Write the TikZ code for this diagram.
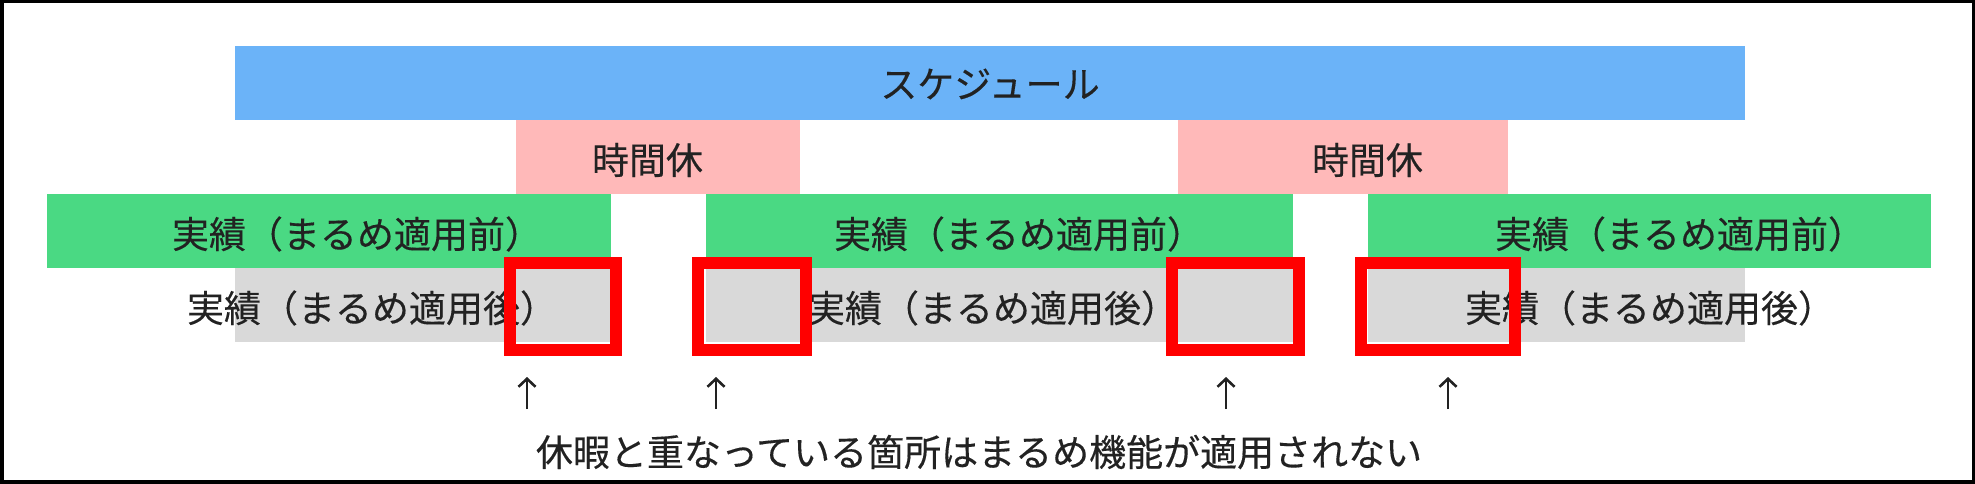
\documentclass[tikz,border=0pt]{standalone}
\usepackage{fontspec}
\newfontfamily\jp[FakeBold=0.3]{Noto Sans CJK JP}
\usetikzlibrary{arrows.meta}
\definecolor{schedblue}{HTML}{6BB3F8}
\definecolor{holpink}{HTML}{FFB9B9}
\definecolor{actgreen}{HTML}{4AD983}
\definecolor{rndgray}{HTML}{D9D9D9}
\definecolor{hired}{HTML}{FF0000}
\definecolor{ink}{HTML}{222222}
\begin{document}
\begin{tikzpicture}[x=1pt,y=-1pt,
  bar/.style={rectangle, inner sep=0pt, outer sep=0pt, minimum height=74pt},
  lbl/.style={inner sep=0pt, outer sep=0pt, text=ink, font=\jp\fontsize{37pt}{44pt}\selectfont},
  hl/.style={rectangle, draw=hired, line width=12pt, inner sep=0pt, outer sep=0pt, minimum height=87pt},
  uparr/.style={draw=ink, line width=2.6pt, -{Straight Barb[length=8pt,width=17pt]}},
  framebox/.style={draw=black, line width=3.5pt}
]
\useasboundingbox (0,0) rectangle (1975,484);
\fill[white] (0,0) rectangle (1975,484);

% bars
\node[bar, fill=schedblue, minimum width=1510pt] (sched) at (990,83) {};
\node[bar, fill=holpink, minimum width=284pt] (hol1) at (658,157) {};
\node[bar, fill=holpink, minimum width=330pt] (hol2) at (1343,157) {};
\node[bar, fill=actgreen, minimum width=564pt] (act1) at (329,231) {};
\node[bar, fill=actgreen, minimum width=587pt] (act2) at (999.5,231) {};
\node[bar, fill=actgreen, minimum width=563pt] (act3) at (1649.5,231) {};
\node[bar, fill=rndgray, minimum width=376pt] (rnd1) at (423,305) {};
\node[bar, fill=rndgray, minimum width=588pt] (rnd2) at (1000,305) {};
\node[bar, fill=rndgray, minimum width=377pt] (rnd3) at (1556.5,305) {};

% labels
\node[lbl] (schedT) at (990,84) {スケジュール};
\node[lbl, anchor=west] (hol1T) at (592,160) {時間休};
\node[lbl, anchor=west] (hol2T) at (1312,160) {時間休};
\node[lbl, anchor=west] (act1T) at (172,234) {実績（まるめ適用前）};
\node[lbl, anchor=west] (act2T) at (834,234) {実績（まるめ適用前）};
\node[lbl, anchor=west] (act3T) at (1495,234) {実績（まるめ適用前）};
\node[lbl, anchor=west] (rnd1T) at (187,308) {実績（まるめ適用後）};
\node[lbl, anchor=west] (rnd2T) at (808,308) {実績（まるめ適用後）};
\node[lbl, anchor=west] (rnd3T) at (1465,308) {実績（まるめ適用後）};

% highlight boxes
\node[hl, minimum width=106pt] (box1) at (563,306.5) {};
\node[hl, minimum width=108pt] (box2) at (752,306.5) {};
\node[hl, minimum width=127pt] (box3) at (1235.5,306.5) {};
\node[hl, minimum width=154pt] (box4) at (1438,306.5) {};

% arrows
\coordinate (a1b) at (527,409);
\coordinate (a1t) at (527,377);
\coordinate (a2b) at (716,409);
\coordinate (a2t) at (716,377);
\coordinate (a3b) at (1226,409);
\coordinate (a3t) at (1226,377);
\coordinate (a4b) at (1448,409);
\coordinate (a4t) at (1448,377);
\draw[uparr] (a1b) -- (a1t);
\draw[uparr] (a2b) -- (a2t);
\draw[uparr] (a3b) -- (a3t);
\draw[uparr] (a4b) -- (a4t);

\node[lbl, anchor=west] (note) at (536,452) {休暇と重なっている箇所はまるめ機能が適用されない};

% frame
\draw[framebox] (1.75,1.75) rectangle (1973.25,481.75);
\end{tikzpicture}
\end{document}
